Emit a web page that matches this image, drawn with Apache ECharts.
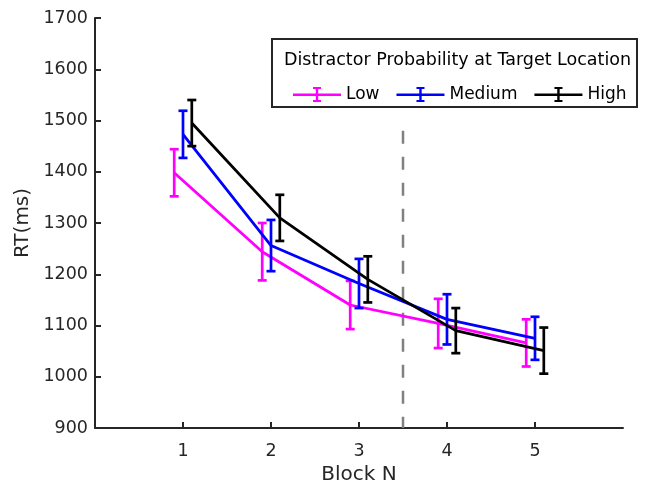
<!DOCTYPE html>
<html>
<head>
<meta charset="utf-8">
<script src="https://cdn.jsdelivr.net/npm/echarts@6/dist/echarts.min.js"></script>
<style>
  html, body { margin: 0; padding: 0; background: #fff; }
  #main { width: 645px; height: 490px; }
</style>
</head>
<body>
<div id="main"></div>
<script>
// block numbers and tick labels
var blocks = [1, 2, 3, 4, 5];
var yTicks = [900, 1000, 1100, 1200, 1300, 1400, 1500, 1600, 1700];

// mean RT per block
var lowMean = [1398, 1244, 1140, 1104, 1066];
var medMean = [1473, 1256, 1182, 1112, 1075];
var highMean = [1495, 1310, 1190, 1090, 1051];

// error bar half-widths
var lowErr = [46, 56, 47, 48, 46];
var medErr = [46, 50, 48, 49, 42];
var highErr = [45, 45, 45, 44, 45];

var seriesNames = ['Low', 'Medium', 'High'];
var seriesColors = ['#ff00ff', '#0000ff', '#000000'];
var offsets = [-0.1, 0, 0.1];
var dividerX = 3.5;
var dividerRange = [1480, 900];

var chart = echarts.init(document.getElementById('main'));

var axisColor = '#262626';
var font = 'DejaVu Sans';

// icon: line with an error bar in the middle
var barIcon = 'path://M0 7H48V9.5H0Z M22.8 1.5H25.2V14.5H22.8Z M20 0.5H28V2.5H20Z M20 13.5H28V15.5H20Z';

function linePoints(means, off) {
  return blocks.map(function (b, i) { return [b + off, means[i]]; });
}
function errPoints(means, errs, off) {
  return blocks.map(function (b, i) { return [b + off, means[i] - errs[i], means[i] + errs[i]]; });
}

function renderErr(color) {
  return function (params, api) {
    var x = api.value(0);
    var lo = api.coord([x, api.value(1)]);
    var hi = api.coord([x, api.value(2)]);
    var cap = 4.5;
    var st = { stroke: color, lineWidth: 2.7 };
    return {
      type: 'group',
      children: [
        { type: 'line', shape: { x1: lo[0], y1: lo[1], x2: hi[0], y2: hi[1] }, style: st },
        { type: 'line', shape: { x1: lo[0] - cap, y1: lo[1], x2: lo[0] + cap, y2: lo[1] }, style: st },
        { type: 'line', shape: { x1: hi[0] - cap, y1: hi[1], x2: hi[0] + cap, y2: hi[1] }, style: st }
      ]
    };
  };
}

var allMeans = [lowMean, medMean, highMean];
var allErrs = [lowErr, medErr, highErr];
var series = [];

series.push({
  type: 'line',
  silent: true,
  symbol: 'none',
  data: [[dividerX, dividerRange[0]], [dividerX, dividerRange[1]]],
  lineStyle: { color: '#808080', width: 2.5, type: [13, 13] },
  z: 1
});

for (var k = 0; k < 3; k++) {
  series.push({
    name: seriesNames[k],
    type: 'line',
    symbol: 'none',
    data: linePoints(allMeans[k], offsets[k]),
    lineStyle: { color: seriesColors[k], width: 2.8 },
    itemStyle: { color: seriesColors[k] },
    z: 2 + k
  });
  series.push({
    name: seriesNames[k],
    type: 'custom',
    renderItem: renderErr(seriesColors[k]),
    data: errPoints(allMeans[k], allErrs[k], offsets[k]),
    itemStyle: { color: seriesColors[k] },
    z: 2 + k
  });
}

var option = {
  backgroundColor: '#fff',
  animation: false,
  grid: { left: 95, right: 22, top: 18, bottom: 60 },
  xAxis: {
    type: 'value',
    min: 0,
    max: 6,
    interval: 1,
    name: 'Block N',
    nameLocation: 'middle',
    nameGap: 37,
    nameTextStyle: { fontFamily: font, fontSize: 20, color: axisColor },
    axisLine: { lineStyle: { color: axisColor, width: 2 } },
    axisTick: { inside: true, length: 6, lineStyle: { color: axisColor, width: 2 }, customValues: blocks },
    axisLabel: { customValues: blocks, fontFamily: font, fontSize: 17.5, color: axisColor, margin: 14 },
    splitLine: { show: false }
  },
  yAxis: {
    type: 'value',
    min: yTicks[0],
    max: yTicks[yTicks.length - 1],
    interval: 100,
    name: 'RT(ms)',
    nameLocation: 'middle',
    nameGap: 60,
    nameTextStyle: { fontFamily: font, fontSize: 20, color: axisColor },
    axisLine: { show: true, lineStyle: { color: axisColor, width: 2 } },
    axisTick: { show: true, inside: true, length: 6, lineStyle: { color: axisColor, width: 2 } },
    axisLabel: {
      fontFamily: font, fontSize: 17.5, color: axisColor, margin: 7,
      formatter: function (v) { return String(v); }
    },
    splitLine: { show: false }
  },
  legend: {
    data: seriesNames.map(function (n, i) {
      return { name: n, icon: barIcon, itemStyle: { color: seriesColors[i] } };
    }),
    left: 293,
    top: 86,
    itemWidth: 48,
    itemHeight: 15,
    itemGap: 17,
    padding: 0,
    textStyle: { fontFamily: font, fontSize: 17, color: '#000' },
    z: 20
  },
  graphic: [
    {
      type: 'rect',
      shape: { x: 272, y: 39, width: 365, height: 68 },
      style: { fill: '#fff', stroke: axisColor, lineWidth: 2 },
      z: 10
    },
    {
      type: 'text',
      x: 284, y: 51,
      style: { text: 'Distractor Probability at Target Location', font: '17.5px "DejaVu Sans"', fill: '#000' },
      z: 11
    }
  ],
  series: series
};

chart.setOption(option);
</script>
</body>
</html>
